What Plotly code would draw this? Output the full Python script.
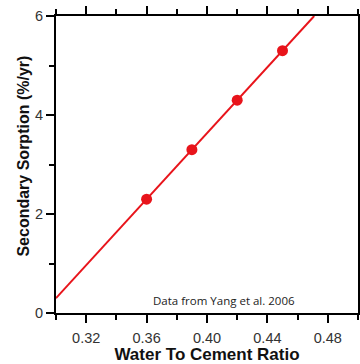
import plotly.graph_objects as go

# Data
wc_ratio = [0.36, 0.39, 0.42, 0.45]
sorption = [2.3, 3.3, 4.3, 5.3]
fit_x = [0.30, 0.471]
fit_y = [0.30, 6.0]
x_ticks = [0.32, 0.36, 0.40, 0.44, 0.48]
x_minor = [0.30, 0.34, 0.38, 0.42, 0.46, 0.50]
x_labels = ["0.32", "0.36", "0.40", "0.44", "0.48"]
y_ticks = [0, 2, 4, 6]
y_minor = [1, 3, 5]
y_labels = ["0", "2", "4", "6"]

red = "#e8141b"
fig = go.Figure()
fig.add_trace(go.Scatter(x=fit_x, y=fit_y, mode="lines", xaxis="x2", yaxis="y",
                         line=dict(color=red, width=2), showlegend=False))
fig.add_trace(go.Scatter(x=wc_ratio, y=sorption, mode="markers",
                         marker=dict(color=red, size=11), showlegend=False))

axis_font = dict(family="Liberation Sans, Arial", size=14.5, color="#333333")
tick_common = dict(ticks="outside", tickwidth=2, tickcolor="black",
                   showgrid=False, zeroline=False, automargin=False)
fig.update_layout(
    width=360, height=364,
    margin=dict(l=56, r=2, t=16, b=51),
    plot_bgcolor="white", paper_bgcolor="white",
    xaxis=dict(range=[0.30, 0.50], tickmode="array", tickvals=x_ticks, ticktext=x_labels,
               ticklen=8, showline=True, linewidth=2, linecolor="black", mirror="ticks",
               tickfont=axis_font, ticklabelstandoff=3, **tick_common,
               minor=dict(tickvals=x_minor, ticks="outside",
                          ticklen=5, tickwidth=2, tickcolor="black", showgrid=False),
               title=dict(text="<b>Water To Cement Ratio</b>", standoff=0,
                          font=dict(family="Liberation Sans, Arial", size=17, color="#111111"))),
    xaxis2=dict(range=[0.30, 0.50], overlaying="x", side="top",
                tickmode="array", tickvals=x_ticks, showticklabels=False, ticklen=8,
                showline=True, linewidth=2, linecolor="black", **tick_common,
                minor=dict(tickvals=x_minor, ticks="outside",
                           ticklen=5, tickwidth=2, tickcolor="black", showgrid=False)),
    yaxis=dict(range=[0, 6], tickmode="array", tickvals=y_ticks, ticktext=y_labels,
               ticklen=8, showline=True, linewidth=2, linecolor="black", mirror="ticks",
               tickfont=axis_font, **tick_common,
               minor=dict(tickvals=y_minor, ticks="outside",
                          ticklen=5, tickwidth=2, tickcolor="black", showgrid=False)),
    annotations=[
        dict(text="Data from Yang et al. 2006", x=0.411, y=0.25, xref="x", yref="y",
             showarrow=False, font=dict(family="Open Sans", size=11.5, color="#222222")),
        dict(text="<b>Secondary Sorption (%/yr)</b>", textangle=-90, x=-0.106, y=0.53,
             xref="paper", yref="paper", xanchor="center", yanchor="middle", showarrow=False,
             font=dict(family="Liberation Sans, Arial", size=16, color="#111111")),
    ],
)
fig.write_html("out.html", config={"displayModeBar": False},
               post_script="document.body.style.margin='0px';")
